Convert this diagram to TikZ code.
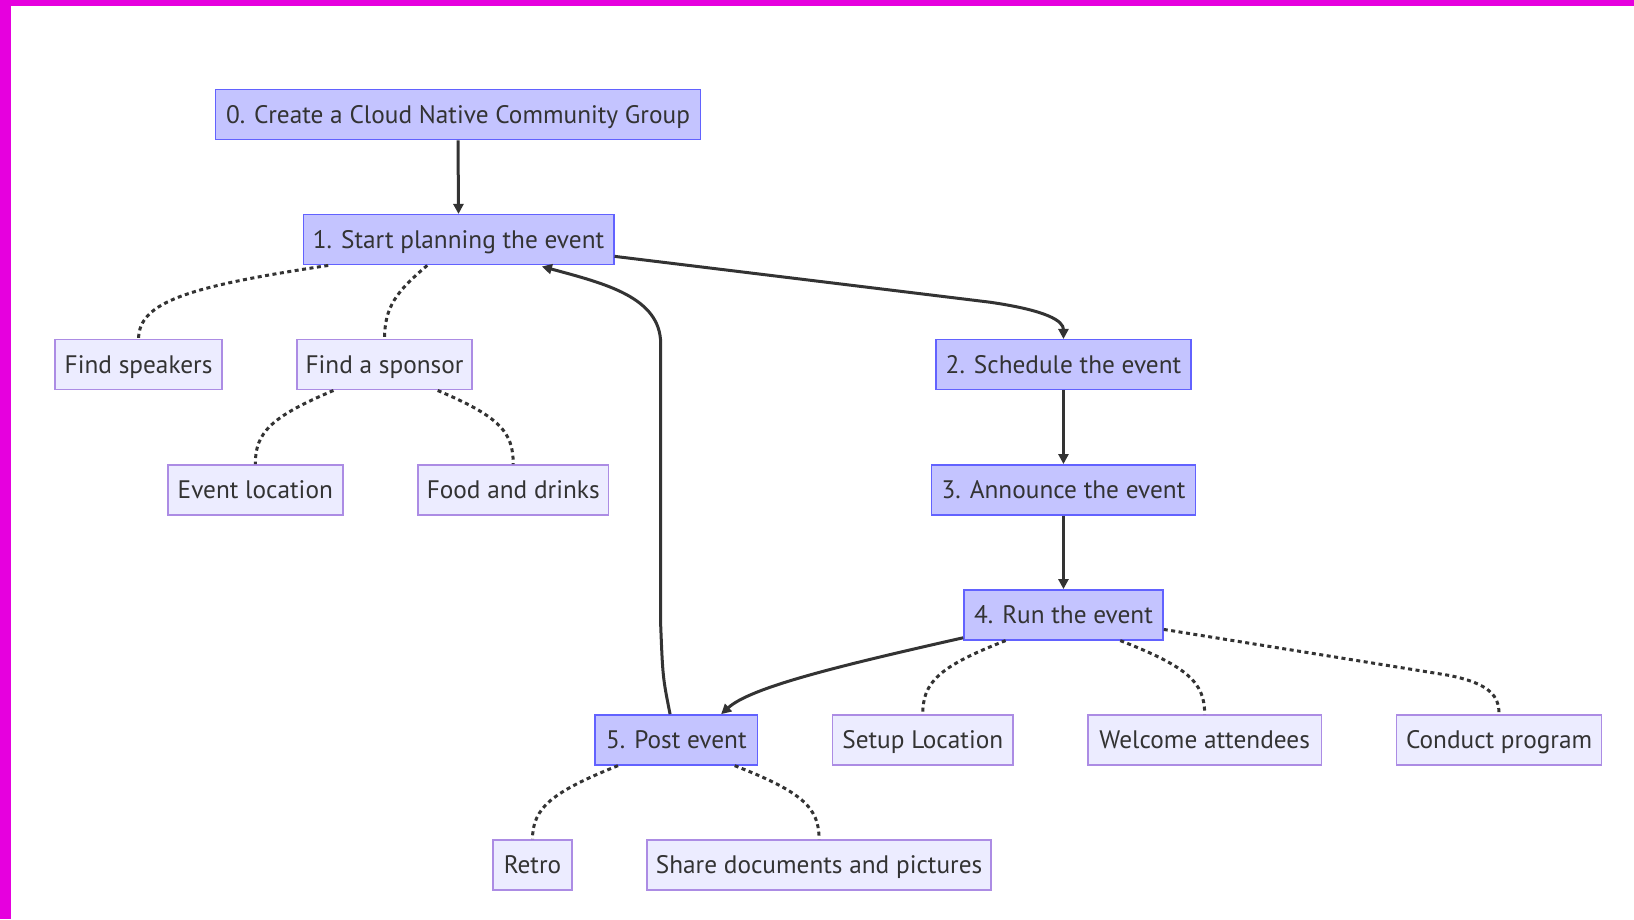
\documentclass[tikz,border=0pt]{standalone}
\usepackage{fontspec}
\setmainfont{PT Sans}
\usetikzlibrary{arrows.meta,calc}
\definecolor{txt}{HTML}{333333}
\definecolor{mainfill}{RGB}{196,196,255}
\definecolor{mainline}{RGB}{98,98,255}
\definecolor{subfill}{RGB}{236,236,255}
\definecolor{subline}{RGB}{172,140,228}
\definecolor{border}{RGB}{230,0,222}
\begin{document}
\begin{tikzpicture}[x=1.042pt,y=-1.042pt,
  base/.style={inner sep=0pt, minimum height=50pt, line width=1.5pt, text=txt, font=\fontsize{25.3}{30}\selectfont, text height=17.7pt, text depth=0pt},
  mainbox/.style={base, draw=mainline, fill=mainfill},
  subbox/.style={base, draw=subline, fill=subfill},
  bw/.style={minimum width=#1*1.042pt},
  arr/.style={draw=txt, line width=3pt, -{Triangle[length=10pt,width=10pt]}},
  dot/.style={draw=txt, line width=3pt, dash pattern=on 4pt off 3.5pt}]
\useasboundingbox (0,0) rectangle (1568,882);
\fill[white] (0,0) rectangle (1568,882);
\fill[border] (0,0) rectangle (1568,5.76);
\fill[border] (0,0) rectangle (10.56,882);

\node[mainbox,bw=465] (n0) at (439.5,110) {0. Create a Cloud Native Community Group};
\node[mainbox,bw=298] (n1) at (440,230) {1. Start planning the event};
\node[subbox,bw=160] (fs) at (133,350) {Find speakers};
\node[subbox,bw=168] (fsp) at (369,350) {Find a sponsor};
\node[subbox,bw=168] (el) at (245,470) {Event location};
\node[subbox,bw=183] (fd) at (492.5,470) {Food and drinks};
\node[mainbox,bw=245] (n2) at (1020.5,350) {2. Schedule the event};
\node[mainbox,bw=253] (n3) at (1020.5,470) {3. Announce the event};
\node[mainbox,bw=191] (n4) at (1020.5,590) {4. Run the event};
\node[mainbox,bw=156] (n5) at (649,710) {5. Post event};
\node[subbox,bw=173] (sl) at (885.5,710) {Setup Location};
\node[subbox,bw=224] (wa) at (1156,710) {Welcome attendees};
\node[subbox,bw=197] (cp) at (1438.5,710) {Conduct program};
\node[subbox,bw=76] (retro) at (511,830) {Retro};
\node[subbox,bw=330] (sd) at (786,830) {Share documents and pictures};

\draw[arr] (n0.south) -- (n1.north);
\draw[arr] ($(n1.east)+(0,16)$) -- (950,290) .. controls (1005,298) and (1020.5,308) .. (n2.north);
\draw[arr] (n2.south) -- (n3.north);
\draw[arr] (n3.south) -- (n4.north);
\draw[arr] ($(n4.west)+(0,22)$) .. controls (800,640) and (720,660) .. ($(n5.north)+(43,0)$);
\draw[arr] ($(n5.north)+(-6,0)$) .. controls (636,650) .. (634,600) -- (634,330) .. controls (634,285) and (580,272) .. ($(n1.south)+(80,1)$);

\draw[dot] ($(n1.south)+(-125,0)$) .. controls (180,275) and (133,290) .. (fs.north);
\draw[dot] ($(n1.south)+(-30,0)$) .. controls (380,280) and (369,295) .. (fsp.north);
\draw[dot] ($(fsp.south)+(-49,0)$) .. controls (260,400) and (245,415) .. (el.north);
\draw[dot] ($(fsp.south)+(51,0)$) .. controls (480,400) and (492.5,415) .. (fd.north);
\draw[dot] ($(n4.south)+(-55.5,0)$) .. controls (900,640) and (885.5,655) .. (sl.north);
\draw[dot] ($(n4.south)+(54.5,0)$) .. controls (1140,640) and (1156,655) .. (wa.north);
\draw[dot] ($(n4.east)+(0,14)$) -- (1390,648) .. controls (1430,656) and (1438.5,668) .. (cp.north);
\draw[dot] ($(n5.south)+(-56,0)$) .. controls (530,760) and (511,775) .. (retro.north);
\draw[dot] ($(n5.south)+(56,0)$) .. controls (770,760) and (786,775) .. (sd.north);
\end{tikzpicture}
\end{document}
